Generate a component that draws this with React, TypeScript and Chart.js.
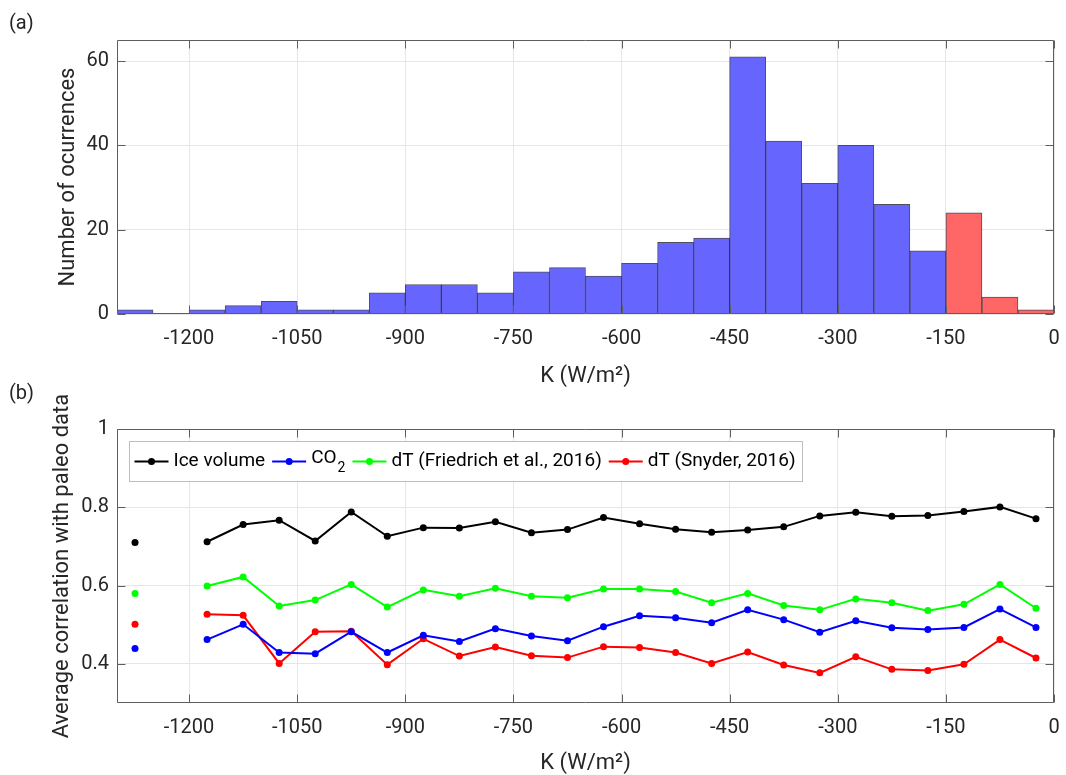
import React, { useEffect, useRef } from "react";
import { Chart, registerables } from "chart.js";

Chart.register(...registerables);

// ---------- data ----------
const binCenters = [
  -1275, -1225, -1175, -1125, -1075, -1025, -975, -925, -875, -825, -775, -725, -675,
  -625, -575, -525, -475, -425, -375, -325, -275, -225, -175, -125, -75, -25,
];
const counts = [1, 0, 1, 2, 3, 1, 1, 5, 7, 7, 5, 10, 11, 9, 12, 17, 18, 61, 41, 31, 40, 26, 15, 24, 4, 1];
const redFrom = -150;

const iceVolume = [0.710, null, 0.712, 0.756, 0.767, 0.714, 0.788, 0.726, 0.748, 0.747, 0.763, 0.735, 0.743, 0.774, 0.758, 0.744, 0.736, 0.742, 0.750, 0.778, 0.787, 0.777, 0.779, 0.789, 0.801, 0.771];
const co2 = [0.439, null, 0.462, 0.501, 0.429, 0.426, 0.482, 0.429, 0.473, 0.457, 0.490, 0.471, 0.459, 0.495, 0.523, 0.518, 0.505, 0.538, 0.513, 0.481, 0.510, 0.492, 0.488, 0.493, 0.540, 0.493];
const dtFriedrich = [0.580, null, 0.599, 0.622, 0.548, 0.563, 0.603, 0.545, 0.589, 0.573, 0.593, 0.573, 0.569, 0.591, 0.591, 0.585, 0.556, 0.580, 0.549, 0.538, 0.566, 0.556, 0.536, 0.552, 0.603, 0.542];
const dtSnyder = [0.501, null, 0.527, 0.524, 0.401, 0.482, 0.483, 0.398, 0.464, 0.420, 0.443, 0.421, 0.416, 0.444, 0.442, 0.429, 0.401, 0.430, 0.397, 0.377, 0.418, 0.386, 0.383, 0.399, 0.462, 0.415];

const xTicks = [-1200, -1050, -900, -750, -600, -450, -300, -150, 0];
const countTicks = [0, 20, 40, 60];
const corrTicks = [0.4, 0.6, 0.8, 1];

const seriesNames = ["Ice volume", "CO|2", "dT (Friedrich et al., 2016)", "dT (Snyder, 2016)"];
const seriesColors = ["#000000", "#0000ff", "#00ff00", "#ff0000"];
const seriesValues = [iceVolume, co2, dtFriedrich, dtSnyder];

// ---------- styles ----------
const FONT = "Roboto";
const TEXT = "#262626";
const GRID = "#e6e6e6";
const FRAME = "#5e5e5e";

const framePlugin = {
  id: "frame",
  afterDatasetsDraw(chart: any) {
    const { ctx, chartArea: a, scales } = chart;
    ctx.save();
    ctx.strokeStyle = FRAME;
    ctx.lineWidth = 1;
    const L = Math.round(a.left) + 0.5;
    const R = Math.round(a.right) - 0.5;
    const T = Math.round(a.top) + 0.5;
    const B = Math.round(a.bottom) - 0.5;
    ctx.beginPath();
    ctx.rect(L, T, R - L, B - T);
    const tl = 8;
    scales.x.ticks.forEach((t: any) => {
      const px = Math.round(scales.x.getPixelForValue(t.value)) + 0.5;
      ctx.moveTo(px, B);
      ctx.lineTo(px, B - tl);
      ctx.moveTo(px, T);
      ctx.lineTo(px, T + tl);
    });
    scales.y.ticks.forEach((t: any) => {
      const py = Math.round(scales.y.getPixelForValue(t.value)) + 0.5;
      ctx.moveTo(L, py);
      ctx.lineTo(L + tl, py);
      ctx.moveTo(R, py);
      ctx.lineTo(R - tl, py);
    });
    ctx.stroke();
    ctx.restore();
  },
};

const legendPlugin = {
  id: "customLegend",
  afterDraw(chart: any) {
    const { ctx, chartArea: a } = chart;
    const fs = 19;
    const font = `${fs}px ${FONT}`;
    const subFont = `${Math.round(fs * 0.72)}px ${FONT}`;
    ctx.save();
    const sampleLen = 34;
    const gapAfterSample = 5;
    const gapAfterText = 7;
    const padL = 5;
    const padR = 7;
    const widths = seriesNames.map((n) => {
      const [main, sub] = n.split("|");
      ctx.font = font;
      let w = ctx.measureText(main).width;
      if (sub) {
        ctx.font = subFont;
        w += ctx.measureText(sub).width + 1;
      }
      return w;
    });
    let total = padL + padR;
    widths.forEach((w, i) => {
      total += sampleLen + gapAfterSample + w + (i < widths.length - 1 ? gapAfterText : 0);
    });
    const bx = Math.round(a.left) + 12 + 0.5;
    const by = Math.round(a.top) + 12 + 0.5;
    const bh = 40;
    ctx.fillStyle = "#ffffff";
    ctx.fillRect(bx, by, total, bh);
    ctx.strokeStyle = "#bdbdbd";
    ctx.lineWidth = 1;
    ctx.strokeRect(bx, by, Math.round(total), bh);
    const cy = by + bh / 2;
    let x = bx + padL;
    seriesNames.forEach((n, i) => {
      const col = seriesColors[i];
      ctx.strokeStyle = col;
      ctx.lineWidth = 2;
      ctx.beginPath();
      ctx.moveTo(x, cy);
      ctx.lineTo(x + sampleLen, cy);
      ctx.stroke();
      ctx.fillStyle = col;
      ctx.beginPath();
      ctx.arc(x + sampleLen / 2, cy, 3.5, 0, Math.PI * 2);
      ctx.fill();
      x += sampleLen + gapAfterSample;
      const [main, sub] = n.split("|");
      ctx.fillStyle = "#000000";
      ctx.textBaseline = "middle";
      ctx.textAlign = "left";
      ctx.font = font;
      ctx.fillText(main, x, sub ? cy - 3 : cy);
      if (sub) {
        const mw = ctx.measureText(main).width;
        ctx.font = subFont;
        ctx.fillText(sub, x + mw + 1, cy + 7);
      }
      x += widths[i] + gapAfterText;
    });
    ctx.restore();
  },
};

const tickFont = { family: FONT, size: 20 };
const titleFont = { family: FONT, size: 22 };

const fitX = (h: number) => (s: any) => {
  s.height = h;
  s.paddingLeft = 0;
  s.paddingRight = 0;
};

function HistChart() {
  const ref = useRef<HTMLCanvasElement | null>(null);
  useEffect(() => {
    const canvas = ref.current;
    if (!canvas) return;
    const chart = new Chart(canvas, {
      type: "bar",
      data: {
        datasets: [
          {
            data: binCenters.map((c, i) => ({ x: c, y: counts[i] })),
            backgroundColor: binCenters.map((c) => (c > redFrom ? "rgb(255,102,102)" : "rgb(102,102,255)")),
            borderColor: "rgba(20,20,40,0.75)",
            borderWidth: 1,
            borderSkipped: "bottom",
            barPercentage: 1,
            categoryPercentage: 1,
          } as any,
        ],
      },
      options: {
        animation: false,
        responsive: false,
        maintainAspectRatio: false,
        layout: { padding: { top: 40, right: 12, left: 0, bottom: 0 } },
        plugins: { legend: { display: false }, tooltip: { enabled: false } },
        scales: {
          x: {
            type: "linear",
            min: -1300,
            max: 0,
            offset: false,
            afterBuildTicks: (s: any) => {
              s.ticks = xTicks.map((v) => ({ value: v }));
            },
            afterFit: fitX(76),
            grid: { color: GRID, drawTicks: false, offset: false },
            border: { display: false },
            ticks: { padding: 13, font: tickFont, color: TEXT, maxRotation: 0, autoSkip: false, callback: (v: any) => String(v) },
            title: { display: true, text: "K (W/m²)", font: titleFont, color: TEXT, padding: { top: 0, bottom: 0 } },
          },
          y: {
            min: 0,
            max: 65,
            afterBuildTicks: (s: any) => {
              s.ticks = countTicks.map((v) => ({ value: v }));
            },
            afterFit: (s: any) => {
              s.width = 117;
            },
            grid: { color: GRID, drawTicks: false },
            border: { display: false },
            ticks: { padding: 8, font: tickFont, color: TEXT, callback: (v: any) => String(v) },
            title: { display: true, text: "Number of ocurrences", font: titleFont, color: TEXT, padding: { top: 55, bottom: 0 } },
          },
        },
      } as any,
      plugins: [framePlugin],
    });
    return () => chart.destroy();
  }, []);
  return <canvas ref={ref} width={1066} height={390} style={{ position: "absolute", left: 0, top: 0, width: 1066, height: 390 }} />;
}

function CorrChart() {
  const ref = useRef<HTMLCanvasElement | null>(null);
  useEffect(() => {
    const canvas = ref.current;
    if (!canvas) return;
    const chart = new Chart(canvas, {
      type: "line",
      data: {
        datasets: seriesValues.map((vals, i) => ({
          label: seriesNames[i],
          data: binCenters.map((c, j) => ({ x: c, y: vals[j] })),
          borderColor: seriesColors[i],
          backgroundColor: seriesColors[i],
          pointBackgroundColor: seriesColors[i],
          pointBorderColor: seriesColors[i],
          pointRadius: 3.5,
          pointBorderWidth: 0,
          borderWidth: 2,
          spanGaps: false,
          tension: 0,
        })),
      },
      options: {
        animation: false,
        responsive: false,
        maintainAspectRatio: false,
        layout: { padding: { top: 39, right: 12, left: 0, bottom: 0 } },
        plugins: { legend: { display: false }, tooltip: { enabled: false } },
        scales: {
          x: {
            type: "linear",
            min: -1300,
            max: 0,
            afterBuildTicks: (s: any) => {
              s.ticks = xTicks.map((v) => ({ value: v }));
            },
            afterFit: fitX(72),
            grid: { color: GRID, drawTicks: false },
            border: { display: false },
            ticks: { padding: 13, font: tickFont, color: TEXT, maxRotation: 0, autoSkip: false, callback: (v: any) => String(v) },
            title: { display: true, text: "K (W/m²)", font: titleFont, color: TEXT, padding: { top: 0, bottom: -2 } },
          },
          y: {
            min: 0.3,
            max: 1,
            afterBuildTicks: (s: any) => {
              s.ticks = corrTicks.map((v) => ({ value: v }));
            },
            afterFit: (s: any) => {
              s.width = 117;
            },
            grid: { color: GRID, drawTicks: false },
            border: { display: false },
            ticks: { padding: 8, font: tickFont, color: TEXT, callback: (v: any) => String(v) },
            title: { display: true, text: "Average correlation with paleo data", font: titleFont, color: TEXT, padding: { top: 49, bottom: 0 } },
          },
        },
      } as any,
      plugins: [framePlugin, legendPlugin],
    });
    return () => chart.destroy();
  }, []);
  return <canvas ref={ref} width={1066} height={385} style={{ position: "absolute", left: 0, top: 390, width: 1066, height: 385 }} />;
}

const labelStyle: React.CSSProperties = {
  position: "absolute",
  left: 9,
  fontFamily: FONT,
  fontSize: 20,
  color: TEXT,
  lineHeight: "24px",
};

export default function App() {
  return (
    <div style={{ position: "absolute", left: 0, top: 0, width: 1066, height: 775, background: "#ffffff", overflow: "hidden" }}>
      <HistChart />
      <CorrChart />
      <div style={{ ...labelStyle, top: 10 }}>(a)</div>
      <div style={{ ...labelStyle, top: 380 }}>(b)</div>
    </div>
  );
}
